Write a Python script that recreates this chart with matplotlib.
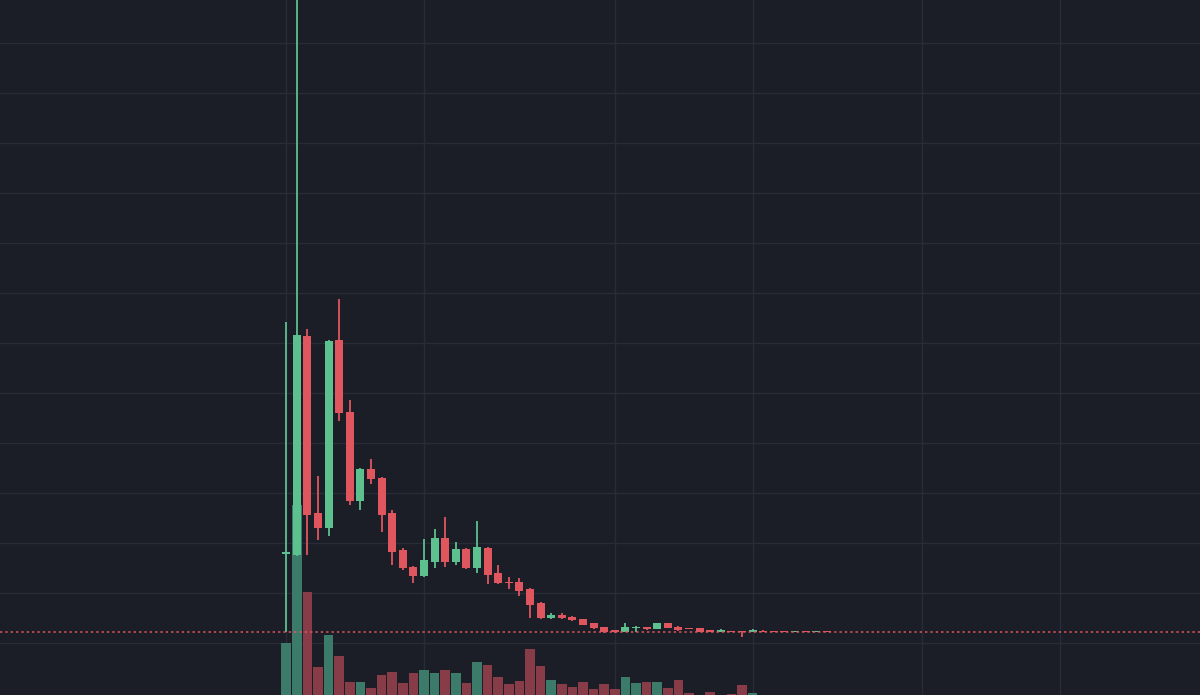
import numpy as np
import matplotlib
matplotlib.use('Agg')
import matplotlib.pyplot as plt

# candle data (arbitrary price units, one row per candle)
opens = [1.79, 1.76, 6.14, 2.60, 2.30, 6.06, 4.62, 2.84, 3.48, 3.30,
         2.60, 1.86, 1.52, 1.34, 1.62, 2.10, 1.62, 1.88, 1.50, 1.90,
         1.40, 1.22, 1.22, 1.08, 0.80, 0.50, 0.56, 0.52, 0.48, 0.40,
         0.32, 0.26, 0.22, 0.30, 0.32, 0.28, 0.40, 0.32, 0.30, 0.30,
         0.26, 0.22, 0.24, 0.24, 0.22, 0.24, 0.23, 0.23, 0.22, 0.23,
         0.22, 0.23]
closes = [1.80, 6.16, 2.56, 2.30, 6.04, 4.60, 2.84, 3.48, 3.28, 2.56,
          1.82, 1.50, 1.34, 1.66, 2.10, 1.62, 1.88, 1.50, 1.92, 1.36,
          1.20, 1.20, 1.04, 0.76, 0.50, 0.56, 0.50, 0.46, 0.36, 0.30,
          0.22, 0.22, 0.32, 0.32, 0.28, 0.40, 0.30, 0.26, 0.28, 0.22,
          0.22, 0.26, 0.22, 0.22, 0.26, 0.22, 0.22, 0.22, 0.23, 0.22,
          0.23, 0.22]
highs = [6.42, 14.0, 6.28, 3.34, 6.06, 6.88, 4.86, 3.50, 3.68, 3.32,
         2.66, 1.90, 1.54, 2.08, 2.28, 2.52, 2.02, 1.90, 2.44, 1.92,
         1.56, 1.32, 1.30, 1.10, 0.82, 0.60, 0.60, 0.54, 0.48, 0.40,
         0.32, 0.26, 0.40, 0.34, 0.32, 0.40, 0.40, 0.34, 0.30, 0.30,
         0.26, 0.28, 0.24, 0.24, 0.28, 0.26, 0.23, 0.23, 0.23, 0.23,
         0.23, 0.23]
lows = [0.22, 1.74, 1.76, 2.06, 2.14, 4.44, 2.76, 2.66, 3.18, 2.22,
        1.56, 1.46, 1.20, 1.32, 1.50, 1.52, 1.56, 1.48, 1.40, 1.18,
        1.18, 1.08, 0.94, 0.50, 0.48, 0.48, 0.48, 0.44, 0.36, 0.28,
        0.20, 0.20, 0.22, 0.22, 0.26, 0.28, 0.30, 0.24, 0.28, 0.22,
        0.22, 0.22, 0.22, 0.12, 0.22, 0.22, 0.22, 0.22, 0.22, 0.22,
        0.22, 0.22]
volumes = [5.2, 19.0, 10.3, 2.8, 6.0, 3.9, 1.3, 1.3, 0.7, 2.0,
           2.3, 1.2, 2.2, 2.5, 2.2, 2.5, 2.2, 1.2, 3.3, 3.0,
           1.8, 1.1, 1.4, 4.6, 2.9, 1.5, 1.1, 0.8, 1.3, 0.6,
           1.1, 0.6, 1.8, 1.2, 1.3, 1.3, 0.7, 1.5, 0.2, 0.05,
           0.3, 0.05, 0.1, 1.0, 0.2, 0.05, 0.05, 0.05, 0.05, 0.05,
           0.05, 0.05]
grid_candles = [0, 13, 31, 44, 60, 73]   # vertical grid at these candles
price_grid = np.arange(0, 13, 1.0)

BG = '#1b1e27'
GRID = '#282c37'
UP = '#5cc08f'
DOWN = '#e0565f'
VOL_UP = '#3c7b6a'
VOL_DOWN = '#873c47'

idx = np.arange(len(opens))
o = np.array(opens)
c = np.array(closes)
up = c >= o
last_close = closes[-1]

fig = plt.figure(figsize=(12, 6.95), dpi=100)
fig.patch.set_facecolor(BG)

# bottom layer: background + grid
ax_grid = fig.add_axes([0, 0, 1, 1])
ax_grid.set_facecolor(BG)
for g in grid_candles:
    ax_grid.axvline(g, color=GRID, linewidth=1.0)
for p in price_grid:
    ax_grid.axhline(p, color=GRID, linewidth=1.0)

# middle layer: volume
ax_vol = fig.add_axes([0, 0, 1, 1], sharex=ax_grid)
ax_vol.patch.set_visible(False)
ax_vol.bar(idx, volumes, width=0.9,
           color=np.where(up, VOL_UP, VOL_DOWN), linewidth=0)
ax_vol.set_ylim(0, 69.5)

# top layer: candles
ax = fig.add_axes([0, 0, 1, 1], sharex=ax_grid, sharey=ax_grid)
ax.patch.set_visible(False)
colors = np.where(up, UP, DOWN)
ax.vlines(idx, lows, highs, colors=colors, linewidth=1.3)
body_bottom = np.minimum(o, c)
body_height = np.maximum(np.abs(c - o), 0.03)
ax.bar(idx, body_height, bottom=body_bottom, width=0.75,
       color=colors, linewidth=0)
ax.axhline(last_close, color=DOWN, linewidth=1.1, linestyle=(0, (1.5, 2.0)))

ax_grid.set_xlim(-27.0, 86.2)
ax_grid.set_ylim(-1.04, 12.86)

for a in (ax_grid, ax_vol, ax):
    a.set_xticks([])
    a.set_yticks([])
    for s in a.spines.values():
        s.set_visible(False)

plt.savefig('out.png', dpi=100, facecolor=BG)
